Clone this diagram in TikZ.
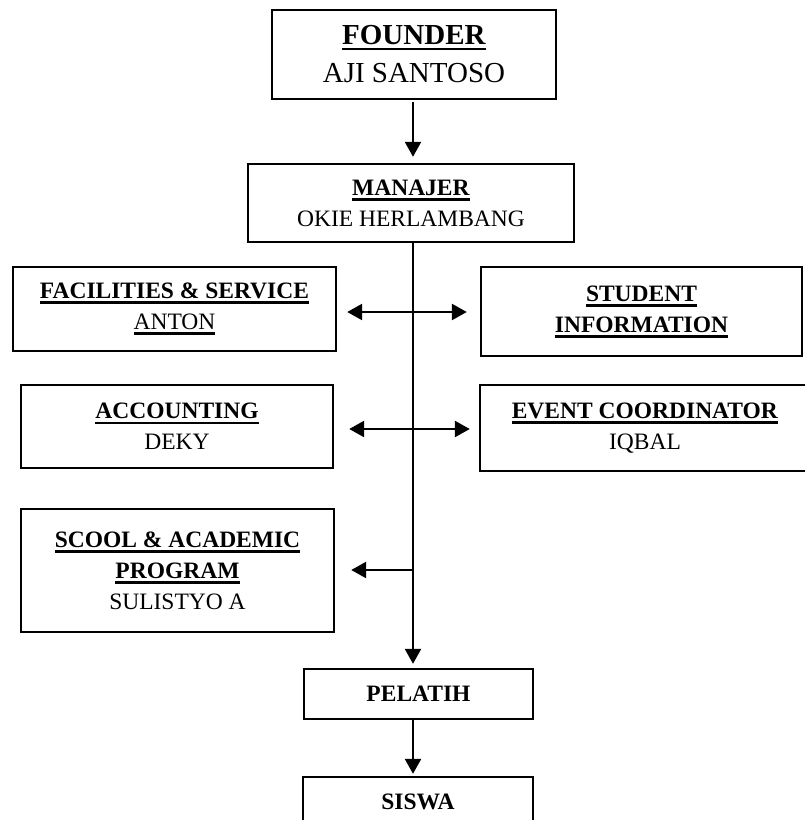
\documentclass[tikz,border=0pt]{standalone}
\usepackage{fontspec}
\setmainfont{Liberation Serif}
\usetikzlibrary{arrows.meta,positioning}
\newcommand{\uhead}[1]{\setbox0\hbox{#1}\rlap{\rule[-5.5pt]{\wd0}{2.6pt}}\box0}

\begin{document}
\begin{tikzpicture}[x=1pt,y=-1pt,
		box/.style={draw,line width=2.4pt,inner sep=0pt,align=center,
			font=\fontsize{23.5}{31}\selectfont},
		>={Triangle[length=15pt,width=16pt]},line width=2.4pt]
	\useasboundingbox[fill=white] (0,0) rectangle (805,820);
	\coordinate (spine) at (413,0);
	\node[box,minimum width=284pt,minimum height=89pt,font=\fontsize{29}{38}\selectfont] (found) at (414,54.5) {\uhead{\textbf{FOUNDER}}\\AJI SANTOSO};
	\node[box,minimum width=326pt,minimum height=78pt] (man) at (411,203) {\uhead{\textbf{MANAJER}}\\OKIE HERLAMBANG};
	\node[box,minimum width=323pt,minimum height=84pt] (fac) at (174.5,309) {\uhead{\textbf{FACILITIES \& SERVICE}}\\\uhead{ANTON}};
	\node[box,minimum width=321pt,minimum height=89pt] (stu) at (641.5,311.5) {\uhead{\textbf{STUDENT}}\\\uhead{\textbf{INFORMATION}}};
	\node[box,minimum width=312pt,minimum height=83pt] (acc) at (177,426.5) {\uhead{\textbf{ACCOUNTING}}\\DEKY};
	\node[box,minimum width=330pt,minimum height=86pt] (evt) at (645,428) {\uhead{\textbf{EVENT COORDINATOR}}\\IQBAL};
	\node[box,minimum width=313pt,minimum height=123pt] (scool) at (177.5,570.5) {\uhead{\textbf{SCOOL \& ACADEMIC}}\\\uhead{\textbf{PROGRAM}}\\SULISTYO A};
	\node[box,minimum width=229pt,minimum height=50pt] (pel) at (418.5,694) {\textbf{PELATIH}};
	\node[box,minimum width=230pt,minimum height=50pt] (sis) at (418,802) {\textbf{SISWA}};
	\coordinate (r1) at (413,312);
	\coordinate (r2) at (413,429);
	\coordinate (r3) at (413,570);
	\draw[->,shorten <=2pt,shorten >=6pt] (found.south -| spine) -- (man.north -| spine);
	\draw[->,shorten >=4pt] (man.south -| spine) -- (pel.north -| spine);
	\draw[<->,shorten <=10pt,shorten >=13pt] (fac.east |- r1) -- (stu.west |- r1);
	\draw[<->,shorten <=15pt,shorten >=9pt] (acc.east |- r2) -- (evt.west |- r2);
	\draw[->,shorten >=16pt] (r3) -- (scool.east |- r3);
	\draw[->,shorten >=2pt] (pel.south -| spine) -- (sis.north -| spine);
\end{tikzpicture}
\end{document}
